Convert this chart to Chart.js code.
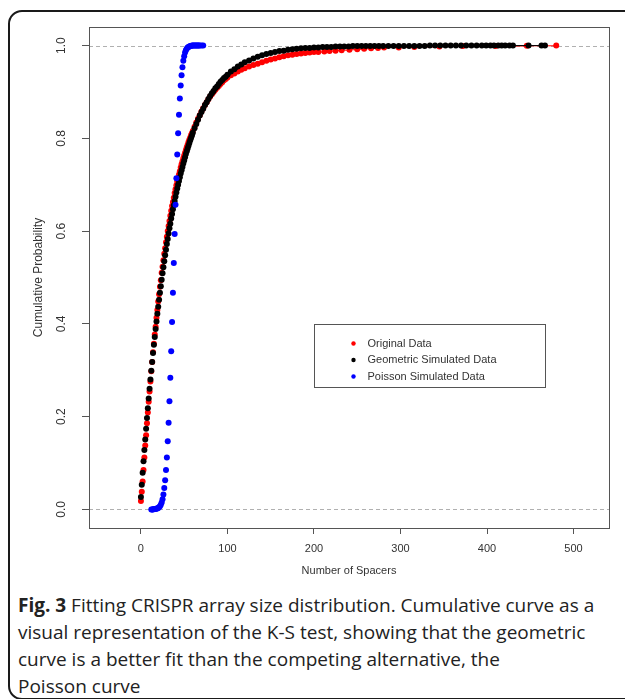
<!DOCTYPE html>
<html>
<head>
<meta charset="utf-8">
<script src="https://cdn.jsdelivr.net/npm/chart.js@4.4.1/dist/chart.umd.min.js"></script>
<style>
html, body { margin: 0; padding: 0; background: #fff; }
body { width: 625px; height: 699px; position: relative; overflow: hidden; }
.frame { position: absolute; left: 8px; top: 10px; width: 660px; height: 686px; border: 2px solid #1a1a1a; border-radius: 14px; }
#wrap { position: absolute; left: 0; top: 0; width: 625px; height: 590px; }
.caption { position: absolute; left: 18px; top: 592px; font-family: "Open Sans", sans-serif; font-size: 19px; line-height: 27px; color: #222; white-space: nowrap; }
.caption b { font-weight: 700; }
</style>
</head>
<body>
<div class="frame"></div>
<div id="wrap"><canvas id="chart"></canvas></div>
<div class="caption"><b>Fig. 3</b> Fitting CRISPR array size distribution. Cumulative curve as a<br>visual representation of the K-S test, showing that the geometric<br>curve is a better fit than the competing alternative, the<br>Poisson curve</div>
<script>
// axis setup
const xTicks = [0, 100, 200, 300, 400, 500];
const yTicks = [0, 0.2, 0.4, 0.6, 0.8, 1.0];
const refLines = [0, 1];
const legendAt = [200, 0.4];

const seriesNames = ['Original Data', 'Geometric Simulated Data', 'Poisson Simulated Data'];
const seriesColors = ['#ff0000', '#000000', '#0000ff'];

// ORIGINAL DATA (red)
const origX = [
    0,1,2,3,4,5,6,7,8,9,10,11,12,13,14,15,16,17,18,19,20,21,22,23,24,25,26,27,28,29,
    30,31,32,33,34,35,36,37,38,39,40,41,42,43,44,45,46,47,48,49,50,51,52,53,54,55,56,57,58,59,60,
    62,64,66,68,70,72,74,76,78,80,82,84,86,88,90,92,94,96,98,100,
    104,108,112,116,120,
    125,130,135,140,145,150,155,160,165,170,175,180,185,190,195,200,
    205,212,218,225,232,241,250,258,266,274,281,298,316,345,372,410,446,480
];
const origY = [
    0.018,0.038,0.060,0.085,0.112,0.138,0.160,0.186,0.209,0.232,
    0.254,0.276,0.298,0.318,0.339,0.357,0.377,0.394,0.413,0.430,
    0.448,0.464,0.480,0.494,0.510,0.523,0.537,0.551,0.563,0.576,
    0.588,0.600,0.611,0.622,0.633,0.644,0.654,0.663,0.672,0.682,
    0.690,0.699,0.707,0.714,0.722,0.729,0.737,0.744,0.750,0.757,
    0.763,0.769,0.775,0.781,0.786,0.792,0.797,0.802,0.807,0.811,0.816,
    0.825,0.834,0.842,0.850,0.858,0.865,0.872,0.878,0.884,0.890,
    0.895,0.900,0.905,0.909,0.913,0.917,0.921,0.925,0.928,0.931,
    0.936,0.940,0.944,0.948,0.951,
    0.955,0.958,0.961,0.964,0.967,0.970,0.972,0.975,0.977,0.979,0.980,0.982,0.983,0.984,0.985,0.986,
    0.986,0.987,0.988,0.989,0.990,0.991,0.992,0.993,0.994,0.995,0.996,0.996,0.997,0.998,0.999,0.999,0.9995,1
];

// GEOMETRIC SIMULATED (black)
const geoX = [
    0,1,2,3,4,5,6,7,8,9,10,11,12,13,14,15,16,17,18,19,20,21,22,23,24,25,26,27,28,29,
    30,31,32,33,34,35,36,37,38,39,40,41,42,43,44,45,46,47,48,49,50,51,52,53,54,55,56,57,58,59,60,
    62,64,66,68,70,72,74,76,78,80,82,84,86,88,90,92,94,96,98,100,
    104,108,112,116,120,
    125,130,135,140,145,150,155,160,165,170,175,180,185,190,195,200,
    205,210,215,220,225,230,235,240,245,250,255,260,265,270,275,280,
    286,292,298,304,310,316,322,328,334,340,346,352,358,364,370,376,382,388,394,
    399,404,408,413,417,421,426,430,448,463,467
];
const geoY = [
    0.027,0.053,0.079,0.104,0.128,0.151,0.174,0.197,0.218,0.239,
    0.260,0.280,0.299,0.318,0.337,0.355,0.372,0.389,0.405,0.422,
    0.437,0.452,0.467,0.481,0.495,0.509,0.522,0.535,0.548,0.560,
    0.572,0.583,0.595,0.606,0.616,0.627,0.637,0.647,0.656,0.665,
    0.674,0.683,0.692,0.700,0.708,0.716,0.724,0.731,0.738,0.746,
    0.752,0.759,0.766,0.772,0.778,0.784,0.790,0.796,0.801,0.806,0.812,
    0.822,0.831,0.840,0.849,0.857,0.864,0.872,0.878,0.885,0.891,
    0.897,0.902,0.908,0.912,0.917,0.922,0.926,0.930,0.933,0.937,
    0.944,0.949,0.955,0.959,0.964,
    0.968,0.972,0.976,0.979,0.982,0.984,0.986,0.988,0.989,0.991,0.992,0.993,0.994,0.995,0.995,0.996,
    0.996,0.997,0.997,0.997,0.998,0.998,0.998,0.998,0.999,0.999,0.999,0.999,0.999,0.999,0.999,0.999,
    0.999,0.999,0.999,0.999,0.999,0.999,0.999,0.999,1,1,1,1,1,1,1,1,1,1,1,
    1,1,1,1,1,1,1,1,1,1,1
];

// POISSON SIMULATED (blue)
const poisX = [
    12,13,14,15,16,17,18,19,20,21,22,23,24,25,26,27,28,29,30,
    31,32,33,34,35,36,37,38,39,40,41,42,43,44,45,46,47,48,49,50,
    51,52,53,54,55,56,57,58,59,60,61,62,63,64,65,66,67,68,70,72
];
const poisY = [
    0.000,0.000,0.000,0.001,0.001,0.001,0.002,0.002,0.003,
    0.005,0.007,0.010,0.015,0.022,0.032,0.046,0.063,0.085,0.112,
    0.147,0.187,0.233,0.284,0.341,0.404,0.467,0.531,0.594,0.657,
    0.714,0.765,0.811,0.851,0.886,0.914,0.936,0.953,0.967,0.977,
    0.985,0.990,0.993,0.996,0.997,0.998,0.999,0.999,1,1,1,1,1,1,1,1,1,1,1,1
];

const font = 'Liberation Sans, Arial, sans-serif';
const inkColor = '#333';
const boxColor = '#555';

const toPoints = (xs, ys) => xs.map((x, i) => ({ x: x, y: ys[i] }));
// ecdf style: horizontal segment from each point to the next one
const toSteps = (xs, ys) => {
    const out = [];
    for (let i = 0; i < xs.length - 1; i++) {
        out.push({ x: xs[i], y: ys[i] }, { x: xs[i + 1], y: ys[i] }, { x: xs[i + 1], y: null });
    }
    return out;
};

const stepSet = (xs, ys, color, order) => ({
    data: toSteps(xs, ys), showLine: true, spanGaps: false,
    borderColor: color, borderWidth: 1, pointRadius: 0, order: order
});
const dotSet = (xs, ys, color, order) => ({
    data: toPoints(xs, ys), showLine: false,
    pointRadius: 3, pointBorderWidth: 0, pointBackgroundColor: color, order: order
});

const plotFrame = {
    id: 'plotFrame',
    beforeDatasetsDraw(chart) {
        const { ctx, chartArea: a, scales: { y } } = chart;
        ctx.save();
        ctx.strokeStyle = '#b0b0b0';
        ctx.lineWidth = 1;
        ctx.setLineDash([4, 3]);
        refLines.forEach(v => {
            const py = Math.round(y.getPixelForValue(v)) + 0.5;
            ctx.beginPath();
            ctx.moveTo(a.left, py);
            ctx.lineTo(a.right, py);
            ctx.stroke();
        });
        ctx.setLineDash([]);
        ctx.strokeStyle = boxColor;
        ctx.strokeRect(a.left + 0.5, a.top + 0.5, a.right - a.left, a.bottom - a.top);
        ctx.restore();
    }
};

const legendBox = {
    id: 'legendBox',
    afterDatasetsDraw(chart) {
        const { ctx, scales: { x, y } } = chart;
        const left = Math.round(x.getPixelForValue(legendAt[0])) + 0.5;
        const top = Math.round(y.getPixelForValue(legendAt[1])) + 0.5;
        ctx.save();
        ctx.fillStyle = '#fff';
        ctx.fillRect(left, top, 231, 63);
        ctx.strokeStyle = boxColor;
        ctx.lineWidth = 1;
        ctx.strokeRect(left, top, 231, 63);
        ctx.font = '11px ' + font;
        ctx.textBaseline = 'middle';
        seriesNames.forEach((name, i) => {
            const cy = top + 19 + i * 16.5;
            ctx.fillStyle = seriesColors[i];
            ctx.beginPath();
            ctx.arc(left + 39, cy, 2.2, 0, Math.PI * 2);
            ctx.fill();
            ctx.fillStyle = inkColor;
            ctx.fillText(name, left + 53, cy);
        });
        ctx.restore();
    }
};

const ctx = document.getElementById('chart').getContext('2d');
const myChart = new Chart(ctx, {
    type: 'scatter',
    data: {
        datasets: [
            stepSet(origX, origY, seriesColors[0], 5),
            dotSet(origX, origY, seriesColors[0], 4),
            stepSet(geoX, geoY, seriesColors[1], 3),
            dotSet(geoX, geoY, seriesColors[1], 2),
            stepSet(poisX, poisY, seriesColors[2], 1),
            dotSet(poisX, poisY, seriesColors[2], 0)
        ]
    },
    options: {
        responsive: true,
        maintainAspectRatio: false,
        animation: false,
        events: [],
        layout: { padding: { left: 0, right: 16, top: 27, bottom: 0 } },
        plugins: { legend: { display: false }, tooltip: { enabled: false } },
        scales: {
            x: {
                type: 'linear', min: -60, max: 541,
                afterBuildTicks: s => { s.ticks = xTicks.map(v => ({ value: v })); },
                afterFit: s => { s.height = 62; },
                ticks: { callback: v => String(v), color: inkColor, font: { family: font, size: 11 }, padding: 8, maxRotation: 0, autoSkip: false },
                grid: { drawOnChartArea: false, drawTicks: true, tickLength: 6, color: boxColor },
                border: { display: false },
                title: { display: true, text: 'Number of Spacers', color: inkColor, font: { family: font, size: 11 }, padding: { top: 0, bottom: 12 } }
            },
            y: {
                type: 'linear', min: -0.04, max: 1.04,
                afterBuildTicks: s => { s.ticks = yTicks.map(v => ({ value: v })); },
                afterFit: s => { s.width = 89; },
                ticks: { callback: v => v.toFixed(1), color: inkColor, font: { family: font, size: 12 }, minRotation: 90, maxRotation: 90, crossAlign: 'center', padding: 12, autoSkip: false },
                grid: { drawOnChartArea: false, drawTicks: true, tickLength: 7, color: boxColor },
                border: { display: false },
                title: { display: true, text: 'Cumulative Probability', color: inkColor, font: { family: font, size: 12 }, padding: { top: 31, bottom: 0 } }
            }
        }
    },
    plugins: [plotFrame, legendBox]
});
</script>
</body>
</html>
